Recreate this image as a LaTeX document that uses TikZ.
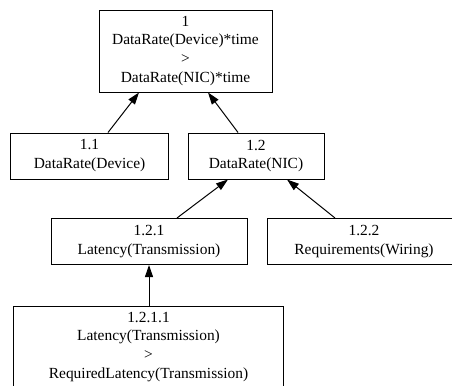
\documentclass[tikz,border=0pt]{standalone}
\usepackage{fontspec}
\setmainfont{Liberation Serif}
\usetikzlibrary{arrows.meta}
\tikzset{
  goal/.style={draw, line width=1bp, inner sep=0pt, align=center, minimum height=46bp},
  link/.style={line width=1bp, -{Triangle[length=12bp,width=8bp]}}
}
\begin{document}
\begin{tikzpicture}[x=1bp,y=-1bp,font=\fontsize{15.5}{19}\selectfont]
  \useasboundingbox (0,0) rectangle (452,385);
  \clip (0,0) rectangle (452,385);
  % top goal 1
  \node[goal, minimum width=173bp, minimum height=82bp] (g1) at (185.5,51)
    {1\\DataRate(Device)*time\\>\\DataRate(NIC)*time};
  % 1.1 and 1.2
  \node[goal, minimum width=157bp] (g11) at (89.5,156) {1.1\\DataRate(Device)};
  \node[goal, minimum width=136bp] (g12) at (256,156) {1.2\\DataRate(NIC)};
  % 1.2.1 and 1.2.2
  \node[goal, minimum width=196bp] (g121) at (149,241.5) {1.2.1\\Latency(Transmission)};
  \node[goal, minimum width=194bp] (g122) at (364,241.5) {1.2.2\\Requirements(Wiring)};
  % 1.2.1.1
  \node[goal, minimum width=269bp, minimum height=82bp] (g1211) at (148.5,347)
    {1.2.1.1\\Latency(Transmission)\\>\\RequiredLatency(Transmission)};
  % links
  \draw[link] ([xshift=18.5bp]g11.north) -- ([xshift=-46.5bp]g1.south);
  \draw[link] ([xshift=-18bp]g12.north) -- ([xshift=22.5bp]g1.south);
  \draw[link] ([xshift=28bp]g121.north) -- ([xshift=-28bp]g12.south);
  \draw[link] ([xshift=-29bp]g122.north) -- ([xshift=31bp]g12.south);
  \draw[link] (g1211.north -| g121.south) -- (g121.south);
\end{tikzpicture}
\end{document}
